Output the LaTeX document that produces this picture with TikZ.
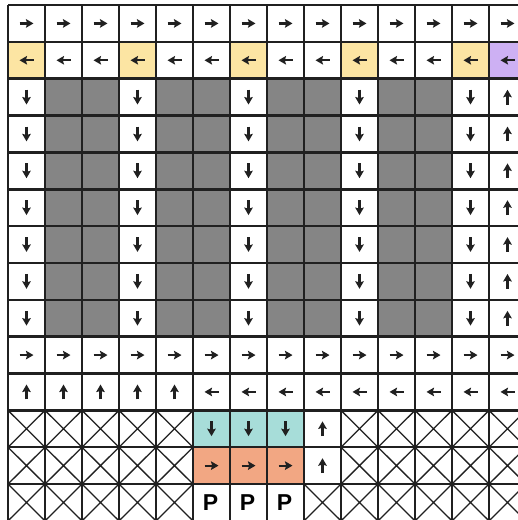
\documentclass[tikz,border=0pt]{standalone}
\usepackage{fontspec}
\setsansfont{Liberation Sans}
\usetikzlibrary{arrows.meta}
\definecolor{cyel}{HTML}{FCE5A3}
\definecolor{cpur}{HTML}{CDB0F3}
\definecolor{cteal}{HTML}{A7DDD9}
\definecolor{corg}{HTML}{F2A783}
\definecolor{cgray}{HTML}{858585}
\definecolor{cline}{HTML}{202020}
\newcommand\cfill[3]{\fill[#3] ({8+37*(#1-1)},{5+36.85*(#2-1)}) rectangle ++(37,36.85);}
\newcommand\carr[4]{\draw[arrowstyle] ({8+37*#1-18.5-#3},{5+36.85*#2-18.425-#4}) -- ++({2*#3},{2*#4});}
\newcommand\ccross[2]{\draw[crossstyle] ({8+37*(#1-1)},{5+36.85*(#2-1)}) -- ++(37,36.85) ({8+37*#1},{5+36.85*(#2-1)}) -- ++(-37,36.85);}
\tikzset{
  arrowstyle/.style={line width=2.2pt,draw=cline,-{Stealth[length=7.5pt,width=8.5pt,inset=1.2pt]}},
  crossstyle/.style={line width=1.3pt,draw=cline},
  gridstyle/.style={line width=2.5pt,draw=cline},
  ptext/.style={font=\sffamily\bfseries\fontsize{23}{23}\selectfont,text=black,inner sep=0pt}
}
\begin{document}
\begin{tikzpicture}[x=1pt,y=-1pt]
\useasboundingbox (0,0) rectangle (518,520);
\clip (0,0) rectangle (518,520);
\fill[white] (0,0) rectangle (518,520);
% fills
\foreach \c in {1,4,7,10,13} {\cfill{\c}{2}{cyel}}
\cfill{14}{2}{cpur}
\foreach \r in {3,...,9} {\foreach \c in {2,3,5,6,8,9,11,12} {\cfill{\c}{\r}{cgray}}}
\foreach \c in {6,7,8} {\cfill{\c}{12}{cteal} \cfill{\c}{13}{corg}}
% crosses
\foreach \c in {1,...,5,10,11,12,13,14} {\ccross{\c}{12} \ccross{\c}{13}}
\foreach \c in {1,...,5,9,10,11,12,13,14} {\ccross{\c}{14}}
% grid
\foreach \k in {0,...,14} {
  \draw[gridstyle] ({8+37*\k},5) -- ({8+37*\k},525);
  \draw[gridstyle] (8,{5+36.85*\k}) -- (530,{5+36.85*\k});
}
% arrows
\foreach \c in {1,...,14} {\carr{\c}{1}{7}{0} \carr{\c}{2}{-7}{0} \carr{\c}{10}{7}{0}}
\foreach \r in {3,...,9} {
  \foreach \c in {1,4,7,10,13} {\carr{\c}{\r}{0}{7.4}}
  \carr{14}{\r}{0}{-7.4}
}
\foreach \c in {1,...,5} {\carr{\c}{11}{0}{-7.4}}
\foreach \c in {6,...,14} {\carr{\c}{11}{-7}{0}}
\foreach \c in {6,7,8} {\carr{\c}{12}{0}{7.4} \carr{\c}{13}{7}{0}}
\carr{9}{12}{0}{-7.4}
\carr{9}{13}{0}{-7.4}
% P labels
\node[ptext] (p1) at ({8+37*6-19.5},{5+36.85*14-18.425}) {P};
\node[ptext] (p2) at ({8+37*7-19.5},{5+36.85*14-18.425}) {P};
\node[ptext] (p3) at ({8+37*8-19.5},{5+36.85*14-18.425}) {P};
\end{tikzpicture}
\end{document}
